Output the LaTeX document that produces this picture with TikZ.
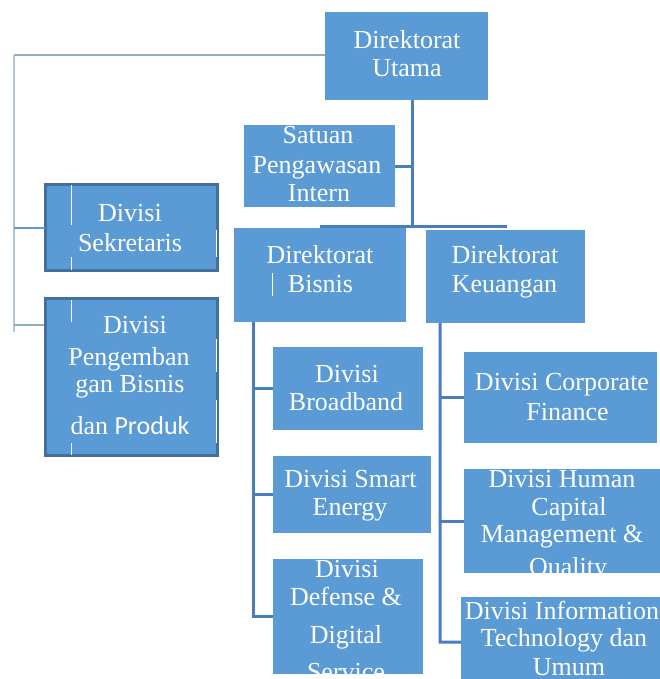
\documentclass[tikz,border=0pt]{standalone}
\usepackage{fontspec}
\setmainfont{Liberation Serif}
\newfontfamily\calfont{Carlito}
\definecolor{boxblue}{HTML}{5B9BD5}
\definecolor{edgeblue}{HTML}{41719C}
\definecolor{lineblue}{HTML}{4A7EBB}
\definecolor{grayline}{HTML}{8FAFC0}
\definecolor{palegray}{HTML}{B4C6D2}
\begin{document}
\begin{tikzpicture}[x=1bp,y=-1bp,
  box/.style={fill=boxblue, draw=none, inner sep=0, outer sep=0},
  sbox/.style={fill=boxblue, draw=edgeblue, line width=3bp, inner sep=0, outer sep=0},
  txt/.style={text=white, inner sep=0, anchor=base, font=\fontsize{26bp}{29bp}\selectfont},
  conn/.style={draw=lineblue, line width=3bp},
  thinconn/.style={draw=boxblue, line width=2bp},
  gline/.style={draw=grayline, line width=1.2bp},
  pline/.style={draw=palegray, line width=1.2bp},
  artif/.style={draw=white, line width=1bp}]
\useasboundingbox (0,0) rectangle (660,679);
% junction coordinates
\coordinate (j1) at (412,226);
\coordinate (barL) at (320,226);
\coordinate (barR) at (507,226);
\coordinate (tb) at (253,322);
\coordinate (tk) at (440,323);
\coordinate (lc) at (14,55);
% boxes
\node[box, minimum width=163bp, minimum height=88bp] (du) at (406.5,56) {};
\node[box, minimum width=151bp, minimum height=82bp] (sat) at (319.5,166) {};
\node[sbox, minimum width=172bp, minimum height=86bp] (sek) at (131.5,227.5) {};
\node[sbox, minimum width=172bp, minimum height=157bp] (peng) at (131.5,377) {};
\node[box, minimum width=172bp, minimum height=94bp] (bis) at (320,275) {};
\node[box, minimum width=159bp, minimum height=93bp] (keu) at (505.5,276.5) {};
\node[box, minimum width=150bp, minimum height=83bp] (bb) at (348,388.5) {};
\node[box, minimum width=158bp, minimum height=77bp] (se) at (352,494.5) {};
\node[box, minimum width=150bp, minimum height=115bp] (def) at (348,616.5) {};
\node[box, minimum width=193bp, minimum height=91bp] (cf) at (560.5,397.5) {};
\node[box, minimum width=196bp, minimum height=104bp] (hc) at (562,521) {};
\node[box, minimum width=199bp, minimum height=82bp] (it) at (560.5,638) {};
% connectors
\draw[conn] (du.south -| j1) -- (j1);
\draw[conn] (sat.east) -- (sat.east -| j1);
\draw[conn] (barL) -- (barR);
\draw[conn] (bis.south -| tb) -- (tb |- def.west) -- (def.west);
\draw[conn] (tb |- bb.west) -- (bb.west);
\draw[conn] (tb |- se.west) -- (se.west);
\draw[conn] (keu.south -| tk) -- (tk |- 0,642) -- ([yshift=-4bp]it.west);
\draw[conn] (tk |- cf.west) -- (cf.west);
\draw[conn] (tk |- hc.west) -- (hc.west);
\draw[gline] (du.west |- lc) -- (lc);
\draw[pline] (lc) -- (lc |- 0,332);
\draw[thinconn] (lc |- sek.west) -- (sek.west);
\draw[gline] (lc |- 0,325) -- ([xshift=-1.5bp]peng.west |- 0,325);
% small white artefacts
\draw[artif] (71,185) -- (71,225) (71,257) -- (71,270) (216,230) -- (216,257);
\draw[artif] (71,300) -- (71,322) (71,443) -- (71,455) (216,339) -- (216,372) (216,400) -- (216,443);
\draw[artif] (272,273) -- (272,296);
% texts
\node[txt] (du1) at (407,49) {Direktorat};
\node[txt] (du2) at (407,77) {Utama};
\begin{scope}
\clip (sat.north west) rectangle (sat.south east);
\node[txt] (sat1) at (318,143) {Satuan};
\node[txt] (sat2) at (317,173) {Pengawasan};
\node[txt] (sat3) at (319,201) {Intern};
\end{scope}
\node[txt] (sek1) at (130,221) {Divisi};
\node[txt] (sek2) at (130,251) {Sekretaris};
\node[txt] (peng1) at (135,333) {Divisi};
\node[txt] (peng2) at (129,365) {Pengemban};
\node[txt] (peng3) at (130,392) {gan Bisnis};
\node[txt] (peng4) at (130,434) {dan {\calfont Produk}};
\node[txt] (bis1) at (320,263) {Direktorat};
\node[txt] (bis2) at (320.5,292) {Bisnis};
\node[txt] (keu1) at (505,263) {Direktorat};
\node[txt] (keu2) at (504.5,292) {Keuangan};
\node[txt] (bb1) at (347,382) {Divisi};
\node[txt] (bb2) at (346,410) {Broadband};
\node[txt] (se1) at (350.5,487) {Divisi Smart};
\node[txt] (se2) at (350,515) {Energy};
\begin{scope}
\clip (def.north west) rectangle (def.south east);
\node[txt] (def1) at (347,577) {Divisi};
\node[txt] (def2) at (346,605) {Defense \&};
\node[txt] (def3) at (346,643) {Digital};
\node[txt] (def4) at (346,680) {Service};
\end{scope}
\node[txt] (cf1) at (562,390) {Divisi Corporate};
\node[txt] (cf2) at (567.5,420) {Finance};
\begin{scope}
\clip (hc.north west) rectangle (hc.south east);
\node[txt] (hc1) at (562,487) {Divisi Human};
\node[txt] (hc2) at (569,515) {Capital};
\node[txt] (hc3) at (562,542) {Management \&};
\node[txt] (hc4) at (568,575) {Quality};
\end{scope}
\begin{scope}
\clip (it.north west) rectangle (it.south east);
\node[txt] (it1) at (562,619) {Divisi Information};
\node[txt] (it2) at (564,646) {Technology dan};
\node[txt] (it3) at (569,675) {Umum};
\end{scope}
\end{tikzpicture}
\end{document}
